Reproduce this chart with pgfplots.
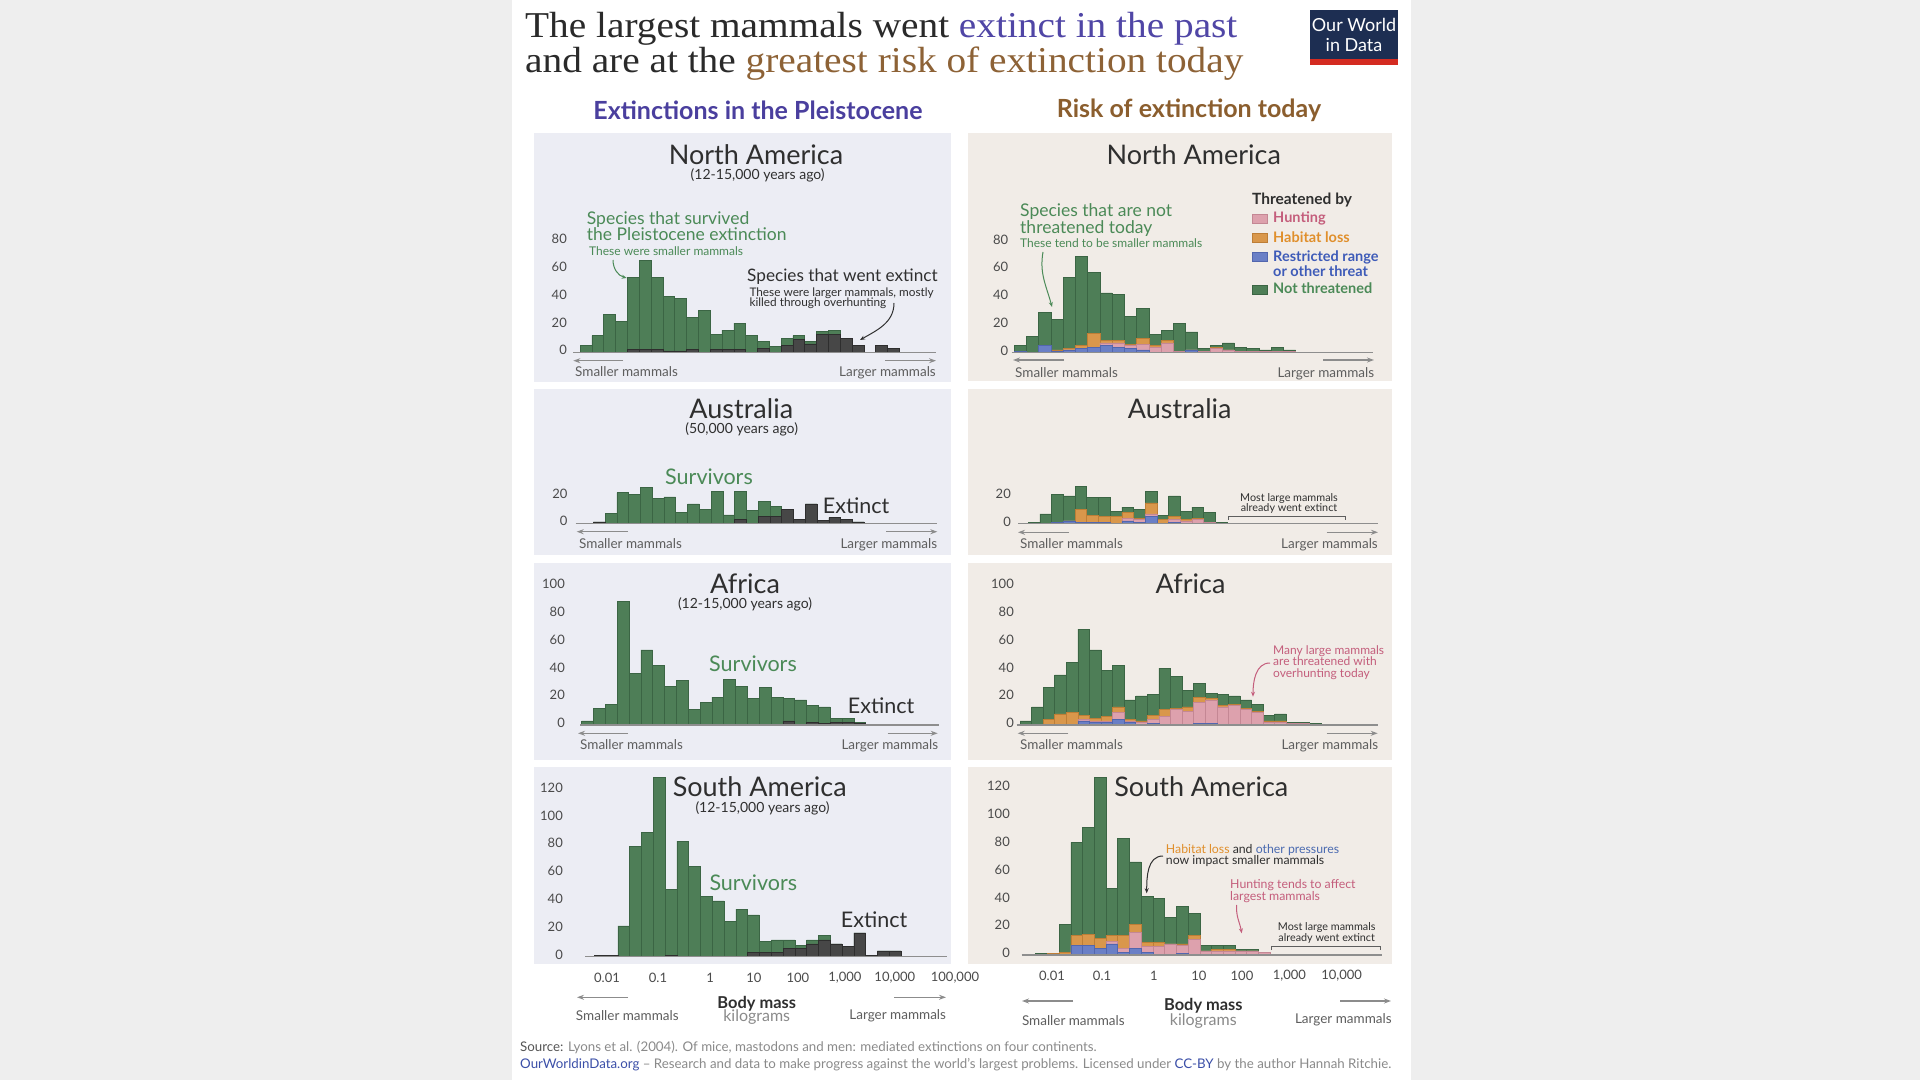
\documentclass[border=0pt]{standalone}
\usepackage{pgfplots}
\pgfplotsset{compat=1.18}
\usepackage{pgfplotstable}
\usepackage{fontspec}
\setmainfont{Lato}
\newfontfamily\ttlfont[FakeStretch=1.08]{Liberation Serif}
\usetikzlibrary{arrows.meta}
\newcommand\fs[1]{\fontsize{#1}{#1}\selectfont}

\definecolor{bgout}{HTML}{EEEEEE}
\definecolor{panL}{HTML}{ECEDF4}
\definecolor{panR}{HTML}{F1ECE7}
\definecolor{gfill}{HTML}{4E7E57}
\definecolor{gedge}{HTML}{3B6544}
\definecolor{dfill}{HTML}{474747}
\definecolor{dedge}{HTML}{2E2E2E}
\definecolor{pfill}{HTML}{DDA1AD}
\definecolor{pedge}{HTML}{C48794}
\definecolor{ofill}{HTML}{D9974B}
\definecolor{oedge}{HTML}{BE7E36}
\definecolor{bfill}{HTML}{6A7FC6}
\definecolor{bedge}{HTML}{5266AE}
\definecolor{ttl}{HTML}{2A2A2A}
\definecolor{owidpurple}{HTML}{5046A6}
\definecolor{owidbrown}{HTML}{8D6236}
\definecolor{subpurple}{HTML}{4A3F9E}
\definecolor{subbrown}{HTML}{8B5E2E}
\definecolor{annGreen}{HTML}{4B8A57}
\definecolor{annPink}{HTML}{C45E7C}
\definecolor{annOrange}{HTML}{E08F2C}
\definecolor{annBlue}{HTML}{3E5BB8}
\definecolor{annBlueB}{HTML}{4A6AB0}
\definecolor{tickc}{HTML}{4A4A4A}
\definecolor{smallc}{HTML}{5E5E5E}
\definecolor{arrowc}{HTML}{8C8C8C}
\definecolor{basec}{HTML}{8E8E8E}
\definecolor{logonavy}{HTML}{1D2E52}
\definecolor{logored}{HTML}{D42B21}
\definecolor{ftdark}{HTML}{555555}
\definecolor{ftgray}{HTML}{8A8A8A}
\definecolor{owidblue}{HTML}{3B4FA8}
\definecolor{txtc}{HTML}{2F2F2F}

% ---------- data: left panels (total height, extinct part) ----------
\pgfplotstableread{
x tot ext
0 5 0
1 12 0
2 27 0
3 22 0
4 54 2
5 66 2
6 54 2
7 40 1
8 39 1
9 25 2
10 30 0
11 13 2
12 16 2
13 21 2
14 12 0
15 8 3
16 4 0
17 10 5
18 12 9
19 8 6
20 15 13
21 16 13
22 10 10
23 5 5
24 0 0
25 5 5
26 3 3
}\naL
\pgfplotstableread{
x tot ext
0 0 0
1 1 1
2 7 0
3 22 0
4 21 0
5 26 0
6 18 0
7 19 0
8 8 0
9 14 0
10 10 0
11 23 0
12 6 0
13 23 3
14 9 0
15 16 5
16 12 5
17 10 10
18 3 3
19 14 14
20 2 2
21 4 4
22 3 3
23 1 1
}\auL
\pgfplotstableread{
x tot ext
0 3 0
1 12 0
2 15 0
3 89 0
4 37 0
5 54 0
6 43 0
7 28 0
8 32 0
9 11 0
10 16 0
11 20 0
12 33 0
13 28 0
14 19 0
15 27 0
16 20 0
17 19 3
18 18 0
19 14 2
20 13 1
21 5 2
22 5 2
23 2 1
24 0.6 0.6
25 0.6 0.6
26 0.6 0.6
}\afL
\pgfplotstableread{
x tot ext
0 0 0
1 1 1
2 1 1
3 22 0
4 79 0
5 89 0
6 129 0
7 48 1
8 83 0
9 65 0
10 43 0
11 40 0
12 25 0
13 34 0
14 30 3
15 11 3
16 12 3
17 12 6
18 8 6
19 12 9
20 15 12
21 9 9
22 7 7
23 17 17
24 1 1
25 4 4
26 4 4
}\saL
% ---------- data: right panels (cumulative tops: restricted, +hunting, +habitat, total) ----------
\pgfplotstableread{
x b p o t
0 1 1 1 5
1 0 0 0 12
2 5 5 5 29
3 1 1 2 24
4 2 2 3 54
5 3 3 5 69
6 4 4 14 58
7 5 7 9 43
8 4 7 9 42
9 3 5 6 26
10 2 6 10 32
11 0 4 5 13
12 0 7 9 16
13 0 1 1 21
14 2 2 2 15
15 0 1 1 3
16 0 3 4 5
17 0 2 2 7
18 0 1 1 4
19 0 1 1 3
20 0 1 1 2
21 0 1 1 4
22 0 1 1 2
}\naR
\pgfplotstableread{
x b p o t
0 0 0 0 0
1 0 0 0 1
2 0 0 0 7
3 1 1 1 21
4 2 2 2 20
5 1 1 10 27
6 1 1 6 19
7 1 1 5 19
8 0 0 5 9
9 2 4 8 12
10 1 3 4 10
11 5 7 15 23
12 0 0 3 6
13 1 3 5 20
14 0 2 3 9
15 0 3 4 12
16 0 1 1 8
17 0 0 0 1
}\auR
\pgfplotstableread{
x b p o t
0 0 0 0 3
1 0 0 0 13
2 0 0 4 27
3 0 0 8 36
4 0 0 9 45
5 3 4 7 69
6 2 3 5 54
7 2 3 6 39
8 4 9 13 43
9 2 3 4 18
10 0 2 3 21
11 1 4 7 22
12 0 6 11 41
13 0 11 12 35
14 0 10 13 25
15 1 16 20 30
16 1 18 19 23
17 0 13 14 22
18 0 14 15 21
19 0 11 12 18
20 0 9 10 15
21 0 2 3 7
22 0 2 3 8
23 0 1 1 2
24 0 1 1 2
25 0 0 0 1
}\afR
\pgfplotstableread{
x b p o t
0 0 0 0 1
1 0 0 1 1
2 0 0 2 22
3 7 7 14 81
4 7 7 15 92
5 5 5 12 128
6 8 10 14 48
7 2 5 14 84
8 5 16 22 67
9 2 6 9 42
10 0 6 9 41
11 0 8 8 27
12 1 7 8 35
13 0 11 14 30
14 0 3 3 7
15 0 3 4 7
16 0 3 4 7
17 0 3 3 4
18 0 3 3 4
19 0 2 2 2
}\saR

\pgfplotsset{
  panel/.style={scale only axis, clip=false, anchor=south west,
    axis x line*=bottom, axis y line*=left, axis line style={draw=none},
    tick style={draw=none}, major tick length=0pt,
    xtick=\empty, ymin=0,
    /pgf/number format/assume math mode=true,
    yticklabel style={font=\fs{13}, text=tickc, anchor=east, inner sep=0pt, yshift=2pt},
    xticklabel style={font=\fs{13}, text=tickc, anchor=center, inner sep=0pt, yshift=-21pt}},
  barbase/.style={ybar, bar width=1, bar shift=0pt, line width=0.6pt, restrict y to domain=0.3:1000},
  gbar/.style={barbase, fill=gfill, draw=gedge},
  dbar/.style={barbase, fill=dfill, draw=dedge},
  obar/.style={barbase, fill=ofill, draw=oedge},
  pbar/.style={barbase, fill=pfill, draw=pedge},
  bbar/.style={barbase, fill=bfill, draw=bedge},
}
\newcommand\baseline{\draw[basec, line width=1.2pt] (rel axis cs:0,0) -- (rel axis cs:1,0);}
\newcommand\leftbarsnb[1]{\addplot[gbar] table[x=x,y=tot]{#1};\addplot[dbar] table[x=x,y=ext]{#1};}
\newcommand\leftbars[1]{\leftbarsnb{#1}\baseline}
\newcommand\rightbars[1]{\addplot[gbar] table[x=x,y=t]{#1};\addplot[obar] table[x=x,y=o]{#1};\addplot[pbar] table[x=x,y=p]{#1};\addplot[bbar] table[x=x,y=b]{#1};\baseline}

\begin{document}
\begin{tikzpicture}
\fill[bgout] (0,0) rectangle (1920pt,1080pt);
\fill[white] (512pt,0) rectangle (1411pt,1080pt);
\begin{scope}[shift={(0pt,1080pt)}, x=1pt, y=-1pt]
  \fill[panL] (534,133) rectangle (951,382);
  \fill[panL] (534,389) rectangle (951,555.5);
  \fill[panL] (534,563) rectangle (951,760);
  \fill[panL] (534,767) rectangle (951,964);
  \fill[panR] (968,133) rectangle (1392,381);
  \fill[panR] (968,389) rectangle (1392,555.5);
  \fill[panR] (968,563) rectangle (1392,760);
  \fill[panR] (968,767) rectangle (1392,964);
\end{scope}

% ---------------- left column ----------------
\begin{axis}[panel, at={(573.3pt,727.7pt)}, width=362.7pt, height=125.1pt,
  xmin=-1.066, xmax=29.59, ymax=90, ytick={0,20,40,60,80}, yticklabel style={xshift=-6.3pt}]
\leftbars{\naL}
\end{axis}
\begin{axis}[panel, at={(575.7pt,556.7pt)}, width=361.3pt, height=41.7pt,
  xmin=-0.99, xmax=29.68, ymax=30, ytick={0,20}, yticklabel style={xshift=-8pt}]
\leftbars{\auL}
\end{axis}
\begin{axis}[panel, at={(580pt,355pt)}, width=359pt, height=139pt,
  xmin=-0.644, xmax=29.70, ymax=100, ytick={0,20,40,60,80,100}, yticklabel style={xshift=-15pt}]
\leftbars{\afL}
\end{axis}
\begin{axis}[panel, at={(585pt,123.5pt)}, width=372.7pt, height=180.7pt,
  xmin=-0.288, xmax=31.3, ymax=130, ytick={0,20,40,60,80,100,120}, yticklabel style={xshift=-22pt},
  xtick={1.58,5.90,10.31,14.03,17.76,21.74,25.97,31.07},
  xticklabels={0.01,0.1,1,10,100,{1,000},{10,000},{100,000}}]
\leftbarsnb{\saL}
\draw[basec, line width=1.2pt] (axis cs:-0.288,0) -- (axis cs:30.39,0);
\end{axis}

% ---------------- right column ----------------
\begin{axis}[panel, at={(1011.7pt,727.3pt)}, width=361.6pt, height=125.1pt,
  xmin=-0.713, xmax=28.85, ymax=90, ytick={0,20,40,60,80}, yticklabel style={xshift=-3.4pt}]
\rightbars{\naR}
\end{axis}
\begin{axis}[panel, at={(1018pt,556.3pt)}, width=360pt, height=41.7pt,
  xmin=-0.38, xmax=30.42, ymax=30, ytick={0,20}, yticklabel style={xshift=-7pt}]
\rightbars{\auR}
\end{axis}
\begin{axis}[panel, at={(1016.7pt,355pt)}, width=361.3pt, height=139pt,
  xmin=-0.785, xmax=30.42, ymax=100, ytick={0,20,40,60,80,100}, yticklabel style={xshift=-2.7pt}]
\rightbars{\afR}
\end{axis}
\begin{axis}[panel, at={(1021.7pt,125pt)}, width=360pt, height=180.7pt,
  xmin=-1.695, xmax=29.02, ymax=130, ytick={0,20,40,60,80,100,120}, yticklabel style={xshift=-11.7pt},
  xtick={0.89,5.16,9.59,13.43,17.10,21.15,25.6},
  xticklabels={0.01,0.1,1,10,100,{1,000},{10,000}}]
\rightbars{\saR}
\end{axis}

% ---------------- annotations ----------------
\begin{scope}[shift={(0pt,1080pt)}, x=1pt, y=-1pt, every node/.style={inner sep=0pt}]
  % title
  \node[anchor=base west, font=\ttlfont\fs{36.4}, text=ttl] at (525,37.5) {The largest mammals went \textcolor{owidpurple}{extinct in the past}};
  \node[anchor=base west, font=\ttlfont\fs{36.4}, text=ttl] at (525,73) {and are at the \textcolor{owidbrown}{greatest risk of extinction today}};
  % logo
  \fill[logonavy] (1310,10) rectangle (1398,65);
  \fill[logored] (1310,59) rectangle (1398,65);
  \node[anchor=base, font=\fs{18}, text=white] at (1354,31.7) {Our World};
  \node[anchor=base, font=\fs{18}, text=white] at (1354,51.7) {in Data};
  % column headings
  \node[anchor=base, font=\bfseries\fs{25}, text=subpurple] at (758,120) {Extinctions in the Pleistocene};
  \node[anchor=base, font=\bfseries\fs{25}, text=subbrown] at (1189,118) {Risk of extinction today};
  % panel titles
  \node[anchor=base, font=\fs{27}, text=txtc] at (756,164.3) {North America};
  \node[anchor=base, font=\fs{14}, text=txtc] at (757.7,180) {(12-15,000 years ago)};
  \node[anchor=base, font=\fs{27}, text=txtc] at (1193.7,164.3) {North America};
  \node[anchor=base, font=\fs{27}, text=txtc] at (741.3,418.3) {Australia};
  \node[anchor=base, font=\fs{14}, text=txtc] at (741.7,433.3) {(50,000 years ago)};
  \node[anchor=base, font=\fs{27}, text=txtc] at (1179.7,418.3) {Australia};
  \node[anchor=base, font=\fs{27}, text=txtc] at (745,593.3) {Africa};
  \node[anchor=base, font=\fs{14}, text=txtc] at (745,608.3) {(12-15,000 years ago)};
  \node[anchor=base, font=\fs{27}, text=txtc] at (1190.5,593.3) {Africa};
  \node[anchor=base, font=\fs{27}, text=txtc] at (759.7,796.7) {South America};
  \node[anchor=base, font=\fs{14}, text=txtc] at (762.5,812.7) {(12-15,000 years ago)};
  \node[anchor=base, font=\fs{27}, text=txtc] at (1201.3,796.7) {South America};

  % NA left annotations
  \node[anchor=base west, font=\fs{17.5}, text=annGreen] at (586.7,225) {Species that survived};
  \node[anchor=base west, font=\fs{17.5}, text=annGreen] at (586.7,241) {the Pleistocene extinction};
  \node[anchor=base west, font=\fs{12}, text=annGreen] at (589,255.7) {These were smaller mammals};
  \draw[annGreen, line width=1pt, -{Stealth[length=5pt,width=4pt]}] (613,260) to[out=-90,in=165] (626.7,278);
  \node[anchor=base west, font=\fs{17.2}, text=txtc] at (747,281.7) {Species that went extinct};
  \node[anchor=base west, font=\fs{11.8}, text=txtc] at (749.3,296.7) {These were larger mammals, mostly};
  \node[anchor=base west, font=\fs{11.8}, text=txtc] at (749.3,306.7) {killed through overhunting};
  \draw[txtc, line width=1pt, -{Stealth[length=5pt,width=4pt]}] (894,303) to[out=-90,in=30] (860,340);

  % NA right annotations + legend
  \node[anchor=base west, font=\fs{17.5}, text=annGreen] at (1020,216.7) {Species that are not};
  \node[anchor=base west, font=\fs{17.5}, text=annGreen] at (1020,233.3) {threatened today};
  \node[anchor=base west, font=\fs{12}, text=annGreen] at (1020,248) {These tend to be smaller mammals};
  \draw[annGreen, line width=1pt, -{Stealth[length=5pt,width=4pt]}] (1043,252) to[out=-100,in=105] (1052,307);
  \node[anchor=base west, font=\bfseries\fs{15.5}, text=txtc] at (1252,205) {Threatened by};
  \filldraw[fill=pfill, draw=pedge, line width=0.6pt] (1252,214.5) rectangle (1267,223.5);
  \node[anchor=base west, font=\bfseries\fs{14.5}, text=annPink] at (1273,222.7) {Hunting};
  \filldraw[fill=ofill, draw=oedge, line width=0.6pt] (1252,233.5) rectangle (1267,242.5);
  \node[anchor=base west, font=\bfseries\fs{14.5}, text=annOrange] at (1273,242.7) {Habitat loss};
  \filldraw[fill=bfill, draw=bedge, line width=0.6pt] (1252,252.5) rectangle (1267,261.5);
  \node[anchor=base west, font=\bfseries\fs{14.5}, text=annBlue] at (1273,261.7) {Restricted range};
  \node[anchor=base west, font=\bfseries\fs{14.5}, text=annBlue] at (1273,276.7) {or other threat};
  \filldraw[fill=gfill, draw=gedge, line width=0.6pt] (1252,285) rectangle (1267,294);
  \node[anchor=base west, font=\bfseries\fs{14.5}, text=annGreen] at (1273,294) {Not threatened};

  % Australia
  \node[anchor=base west, font=\fs{21.5}, text=annGreen] at (665,485) {Survivors};
  \node[anchor=base west, font=\fs{21.5}, text=txtc] at (822.7,513.3) {Extinct};
  \node[anchor=base, font=\fs{10.8}, text=txtc] at (1289,501.7) {Most large mammals};
  \node[anchor=base, font=\fs{10.8}, text=txtc] at (1289,512) {already went extinct};
  \draw[smallc, line width=0.9pt] (1228,520) -- (1228,516.5) -- (1345,516.5) -- (1345,520);

  % Africa
  \node[anchor=base west, font=\fs{21.5}, text=annGreen] at (709,671.7) {Survivors};
  \node[anchor=base west, font=\fs{21.5}, text=txtc] at (847.7,714) {Extinct};
  \node[anchor=base west, font=\fs{12}, text=annPink] at (1273,654.3) {Many large mammals};
  \node[anchor=base west, font=\fs{12}, text=annPink] at (1273,666) {are threatened with};
  \node[anchor=base west, font=\fs{12}, text=annPink] at (1273,677.7) {overhunting today};
  \draw[annPink, line width=1pt, -{Stealth[length=5pt,width=4pt]}] (1270,663) to[out=180,in=90] (1253,696.7);

  % South America
  \node[anchor=base west, font=\fs{21.5}, text=annGreen] at (709.3,890.7) {Survivors};
  \node[anchor=base west, font=\fs{21.5}, text=txtc] at (840.7,927.7) {Extinct};
  \node[anchor=base west, font=\fs{12.3}, text=txtc] at (1165.7,853.3) {\textcolor{annOrange}{Habitat loss} and \textcolor{annBlueB}{other pressures}};
  \node[anchor=base west, font=\fs{12.3}, text=txtc] at (1165.7,864) {now impact smaller mammals};
  \draw[txtc, line width=1pt, -{Stealth[length=5pt,width=4pt]}] (1163,856) to[out=180,in=90] (1146.7,893.3);
  \node[anchor=base west, font=\fs{12.3}, text=annPink] at (1230,888.3) {Hunting tends to affect};
  \node[anchor=base west, font=\fs{12.3}, text=annPink] at (1230,900) {largest mammals};
  \draw[annPink, line width=1pt, -{Stealth[length=5pt,width=4pt]}] (1236.7,905) to[out=-95,in=100] (1241.7,933.3);
  \node[anchor=base, font=\fs{10.8}, text=txtc] at (1326.7,930.7) {Most large mammals};
  \node[anchor=base, font=\fs{10.8}, text=txtc] at (1326.7,941) {already went extinct};
  \draw[smallc, line width=0.9pt] (1271,950) -- (1271,946.7) -- (1380,946.7) -- (1380,950);

  % smaller / larger mammals
  \tikzset{garrow/.style={arrowc, line width=1.2pt, -{Stealth[length=7pt,width=5pt]}}}
  \foreach \ya/\yt/\la/\lb/\ra/\rb/\lt/\rt in {
      360.7/377/623/573.3/885/936/575/936,
      360/377.3/1064/1013/1323/1374/1015/1374.3,
      531.7/549/628/576.7/886/937.3/579/937.3,
      532.3/549/1069/1018/1326.7/1378/1020/1378,
      733.3/750/628/578/887.7/937.7/580/938.3,
      733.3/750/1068.3/1017.7/1326.7/1377.7/1020/1378.3}{
    \draw[garrow] (\la,\ya) -- (\lb,\ya);
    \draw[garrow] (\ra,\ya) -- (\rb,\ya);
    \node[anchor=base west, font=\fs{13.5}, text=smallc] at (\lt,\yt) {Smaller mammals};
    \node[anchor=base east, font=\fs{13.5}, text=smallc] at (\rt,\yt) {Larger mammals};
  }
  % bottom axis titles
  \draw[garrow] (628,997.3) -- (577,997.3);
  \draw[garrow] (894,997.3) -- (946,997.3);
  \node[anchor=base, font=\fs{13.5}, text=smallc] at (627.3,1020) {Smaller mammals};
  \node[anchor=base, font=\fs{13.5}, text=smallc] at (897.7,1019) {Larger mammals};
  \node[anchor=base, font=\bfseries\fs{16.4}, text=txtc] at (756.7,1008.3) {Body mass};
  \node[anchor=base, font=\fs{16}, text=ftgray] at (756.7,1021.7) {kilograms};
  \draw[garrow] (1073,1001) -- (1022,1001);
  \draw[garrow] (1340,1001) -- (1391,1001);
  \node[anchor=base, font=\fs{13.5}, text=smallc] at (1073.3,1025) {Smaller mammals};
  \node[anchor=base, font=\fs{13.5}, text=smallc] at (1343.3,1023.3) {Larger mammals};
  \node[anchor=base, font=\bfseries\fs{16.4}, text=txtc] at (1203.3,1010) {Body mass};
  \node[anchor=base, font=\fs{16}, text=ftgray] at (1203.3,1025.7) {kilograms};

  % footer
  \node[anchor=base west, font=\fs{13.3}, text=ftgray] at (520,1051) {\textcolor{ftdark}{Source:} Lyons et al. (2004). Of mice, mastodons and men: mediated extinctions on four continents.};
  \node[anchor=base west, font=\fs{13.3}, text=ftgray] at (520,1068) {\textcolor{owidblue}{OurWorldinData.org} – Research and data to make progress against the world’s largest problems. Licensed under \textcolor{owidblue}{CC-BY} by the author Hannah Ritchie.};
\end{scope}
\pgfresetboundingbox
\useasboundingbox (0,0) rectangle (1920pt,1080pt);
\end{tikzpicture}
\end{document}
